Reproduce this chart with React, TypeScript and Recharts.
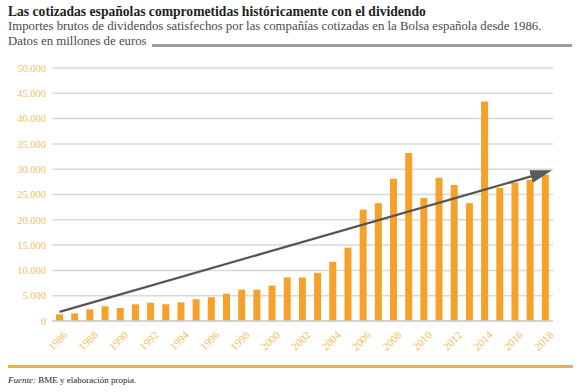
import React from "react";
import { BarChart, Bar, XAxis, YAxis, CartesianGrid, ReferenceLine } from "recharts";

const years = [
  "1986","1987","1988","1989","1990","1991","1992","1993","1994","1995","1996",
  "1997","1998","1999","2000","2001","2002","2003","2004","2005","2006","2007",
  "2008","2009","2010","2011","2012","2013","2014","2015","2016","2017","2018",
];
const dividends = [
  1300, 1500, 2300, 2900, 2600, 3300, 3600, 3300, 3700, 4300, 4700,
  5400, 6200, 6200, 7000, 8600, 8600, 9500, 11700, 14500, 22000, 23300,
  28100, 33200, 24300, 28300, 26900, 23300, 43400, 26300, 27300, 27900, 28900,
];
const yTicks = [0, 5000, 10000, 15000, 20000, 25000, 30000, 35000, 40000, 45000, 50000];
const trendStart = { x: "1986", y: 1800 };
const trendEnd = { x: "2018", y: 29400 };

const data = years.map((y, i) => ({ year: y, value: dividends[i] }));

const SERIF = "'Liberation Serif', serif";
const TICK_COLOR = "#F3BE62";

const fmt = (v: number) => (v === 0 ? "0" : v.toLocaleString("de-DE"));

const XTick = (props: any) => {
  const { x, y, payload } = props;
  const ax = x + 3;
  const ay = y + 1;
  return (
    <text
      x={ax}
      y={ay}
      transform={`rotate(-45 ${ax} ${ay})`}
      textAnchor="end"
      dominantBaseline="hanging"
      fill={TICK_COLOR}
      fontSize={11}
      fontFamily={SERIF}
    >
      {payload.value}
    </text>
  );
};

const ArrowShape = (props: any) => {
  const { x1, y1, x2, y2 } = props;
  return (
    <g>
      <defs>
        <marker
          id="trendArrow"
          markerUnits="userSpaceOnUse"
          markerWidth={24}
          markerHeight={14}
          refX={15}
          refY={6.5}
          orient="auto"
        >
          <path d="M0,0 L22,6.5 L0,13 z" fill="#5a5a5a" />
        </marker>
      </defs>
      <line
        x1={x1}
        y1={y1}
        x2={x2}
        y2={y2}
        stroke="#555555"
        strokeWidth={2.2}
        markerEnd="url(#trendArrow)"
      />
    </g>
  );
};

export default function App() {
  return (
    <div
      style={{
        position: "absolute",
        left: 0,
        top: 0,
        width: 577,
        height: 392,
        background: "#fff",
        fontFamily: SERIF,
      }}
    >
      <div
        style={{
          position: "absolute",
          left: 8,
          top: 4,
          fontSize: 13.6,
          fontWeight: "bold",
          color: "#231f20",
          whiteSpace: "nowrap",
        }}
      >
        Las cotizadas españolas comprometidas históricamente con el dividendo
      </div>
      <div
        style={{
          position: "absolute",
          left: 8,
          top: 19,
          fontSize: 12.8,
          color: "#4a4a4a",
          whiteSpace: "nowrap",
        }}
      >
        Importes brutos de dividendos satisfechos por las compañías cotizadas en la Bolsa española desde 1986.
      </div>
      <div
        style={{
          position: "absolute",
          left: 8,
          top: 34,
          fontSize: 12.8,
          color: "#4a4a4a",
          whiteSpace: "nowrap",
        }}
      >
        Datos en millones de euros
      </div>
      <div
        style={{
          position: "absolute",
          left: 152,
          top: 44,
          width: 420,
          height: 3,
          background: "#9c9c9c",
        }}
      />
      <BarChart
        width={577}
        height={392}
        data={data}
        margin={{ top: 68, right: 24, left: 0, bottom: 31 }}
        barCategoryGap={0}
      >
        <CartesianGrid vertical={false} stroke="#d9d9d9" strokeWidth={1.5} />
        <XAxis
          dataKey="year"
          interval={1}
          height={40}
          tickLine={false}
          axisLine={{ stroke: "#cfcfcf", strokeWidth: 1.5 }}
          tick={<XTick />}
        />
        <YAxis
          width={52}
          domain={[0, 50000]}
          ticks={yTicks}
          tickFormatter={fmt}
          tickLine={false}
          axisLine={false}
          tickSize={0}
          tickMargin={6}
          tick={{ fill: TICK_COLOR, fontSize: 10.5, fontFamily: SERIF }}
        />
        <Bar dataKey="value" fill="#F6A12A" barSize={7} isAnimationActive={false} />
        <ReferenceLine
          segment={[trendStart, trendEnd]}
          ifOverflow="visible"
          shape={<ArrowShape />}
        />
      </BarChart>
      <div
        style={{
          position: "absolute",
          left: 8,
          top: 365,
          width: 565,
          height: 3,
          background: "#F0B047",
        }}
      />
      <div
        style={{
          position: "absolute",
          left: 8,
          top: 375,
          fontSize: 9,
          color: "#231f20",
          whiteSpace: "nowrap",
        }}
      >
        <i>Fuente:</i> BME y elaboración propia.
      </div>
    </div>
  );
}
